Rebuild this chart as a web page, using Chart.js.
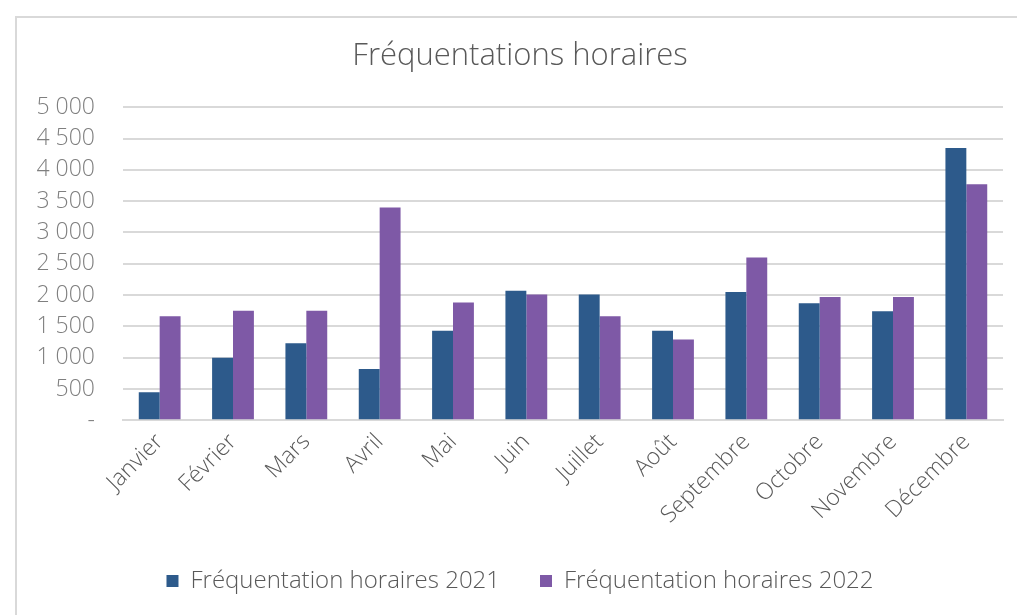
<!DOCTYPE html>
<html><head><meta charset="utf-8">
<script src="https://cdn.jsdelivr.net/npm/chart.js@4"></script>
<style>
html,body{margin:0;padding:0;background:#fff;overflow:hidden;width:1017px;height:615px;}
#wrap{position:absolute;left:15px;top:16px;width:1010px;height:610px;border:2px solid #d9d9d9;box-sizing:border-box;}
#c{position:absolute;left:0;top:0;}
</style></head>
<body>
<div id="wrap"><canvas id="c" width="1000" height="597"></canvas></div>
<script>
const months = ['Janvier','Février','Mars','Avril','Mai','Juin','Juillet','Août','Septembre','Octobre','Novembre','Décembre'];
const series2021 = [450,1000,1230,820,1430,2070,2010,1430,2050,1870,1740,4350];
const series2022 = [1660,1750,1750,3400,1880,2010,1660,1290,2600,1970,1970,3770];
const seriesNames = ['Fréquentation horaires 2021','Fréquentation horaires 2022'];
const chartTitle = 'Fréquentations horaires';

const FONT = "'Open Sans', Lato, sans-serif";
new Chart(document.getElementById('c'), {
  type: 'bar',
  data: {
    labels: months,
    datasets: [
      {label: seriesNames[0], data: series2021, backgroundColor: '#2d5a8b', categoryPercentage: 0.57, barPercentage: 1.0},
      {label: seriesNames[1], data: series2022, backgroundColor: '#7e59a6', categoryPercentage: 0.57, barPercentage: 1.0}
    ]
  },
  options: {
    responsive: false,
    animation: false,
    layout: {padding: {left: 20, right: 14, top: 16, bottom: 12}},
    plugins: {
      title: {display: true, text: chartTitle, color: '#595959', font: {family: FONT, size: 31, weight: 300}, padding: {top: 4, bottom: 32}},
      legend: {position: 'bottom', labels: {color: '#595959', font: {family: FONT, size: 24, weight: 300}, boxWidth: 12, boxHeight: 12, padding: 40}},
      tooltip: {enabled: false}
    },
    scales: {
      x: {
        grid: {display: false},
        border: {display: true, color: '#d9d9d9', width: 2},
        afterFit: s => { s.paddingLeft = 0; },
        ticks: {color: '#595959', font: {family: FONT, size: 23, weight: 300}, minRotation: 45, maxRotation: 45, padding: 0}
      },
      y: {
        min: 0, max: 5000,
        grid: {color: '#d9d9d9', lineWidth: 2, drawTicks: false},
        border: {display: false},
        afterFit: s => { s.width = 86; },
        ticks: {stepSize: 500, color: '#7f7f7f', padding: 28, font: {family: FONT, size: 23, weight: 300},
          callback: v => v === 0 ? '-' : String(v).replace(/\B(?=(\d{3})+(?!\d))/g, ' ')}
      }
    }
  }
});
</script>
</body></html>
